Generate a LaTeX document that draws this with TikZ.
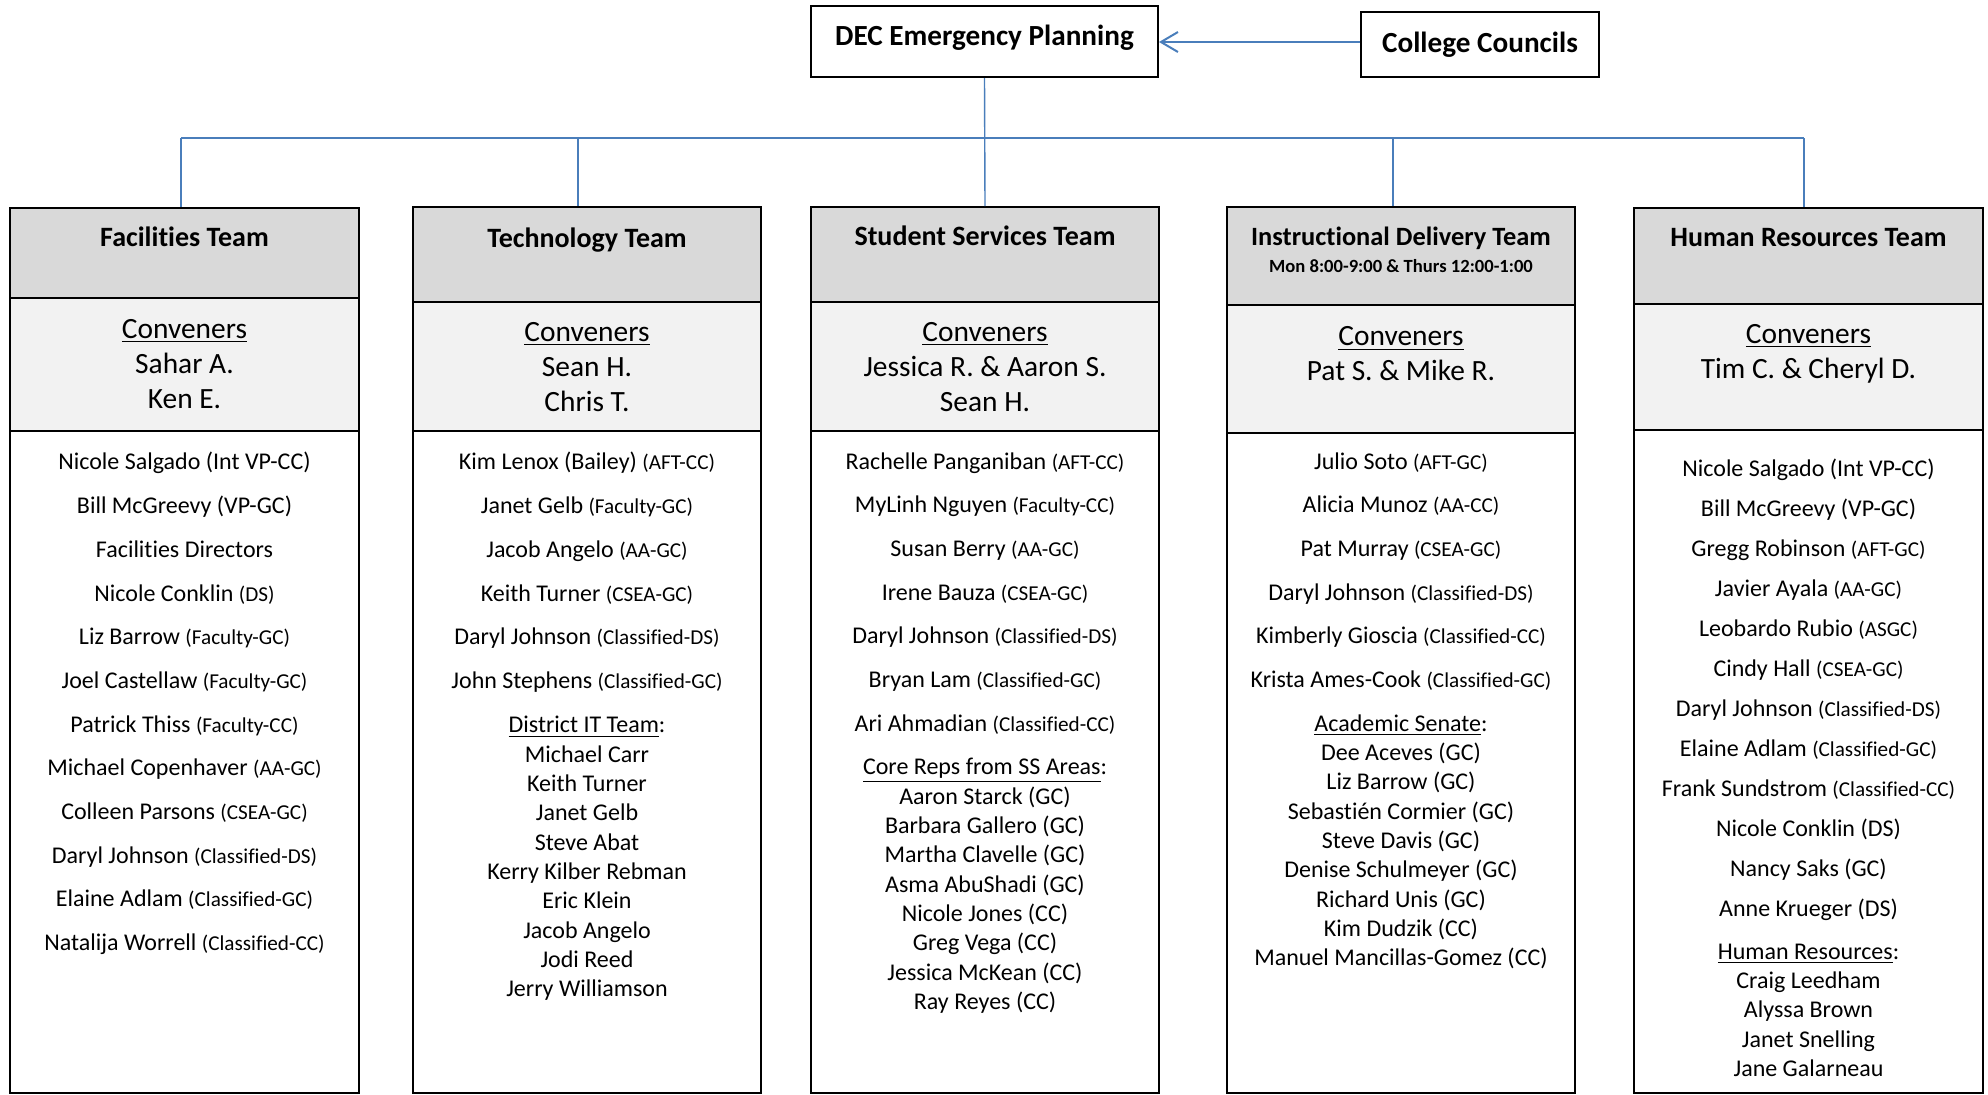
\documentclass[tikz,border=0pt]{standalone}
\usepackage{fontspec}
\setmainfont{Carlito}[Ligatures=CommonOff]
\usetikzlibrary{fit,arrows.meta}
\definecolor{linkblue}{HTML}{4A7EBB}
\definecolor{hdrgray}{HTML}{D9D9D9}
\definecolor{convgray}{HTML}{F2F2F2}
\newcommand{\orgtag}[1]{{\fontsize{10.6}{14.65}\selectfont #1}}

\begin{document}
\begin{tikzpicture}[x=0.5pt,y=-0.5pt,
	box/.style={draw, line width=1pt, inner sep=0pt},
	hdrbox/.style={box, fill=hdrgray},
	convbox/.style={box, fill=convgray},
	topttl/.style={font=\fontsize{14.6}{17}\selectfont\bfseries},
	ttl/.style={font=\fontsize{14}{17}\selectfont\bfseries},
	conv/.style={align=center, inner sep=0pt, font=\fontsize{14.7}{17.5}\selectfont},
	lst/.style={align=center, anchor=north, inner sep=0pt, font=\fontsize{12}{14.65}\selectfont},
	link/.style={draw=linkblue, line width=0.7pt},
	bus/.style={draw=linkblue, line width=1pt},
	arr/.style={draw=linkblue, line width=1pt, -{Straight Barb[length=8.5pt,width=10pt]}}]

	\useasboundingbox (0,0) rectangle (1988,1094);

	% top level
	\node[box, fit={(811,6) (1158,77)}] (dec) {};
	\node[topttl] (dect) at (984.5,38) {DEC Emergency Planning};
	\node[box, fit={(1361,12) (1599,77)}] (cc) {};
	\node[topttl] (cct) at (1480,45) {College Councils};

	% team frames
	\node[hdrbox, fit={(10,208) (359,298)}] (fach) {};
	\node[convbox, fit={(10,298) (359,431)}] (facc) {};
	\node[box, fit={(10,431) (359,1093)}] (facb) {};

	\node[hdrbox, fit={(413,207) (761,302)}] (tech) {};
	\node[convbox, fit={(413,302) (761,431)}] (tecc) {};
	\node[box, fit={(413,431) (761,1093)}] (tecb) {};

	\node[hdrbox, fit={(811,207) (1159,302)}] (ssh) {};
	\node[convbox, fit={(811,302) (1159,431)}] (ssc) {};
	\node[box, fit={(811,431) (1159,1093)}] (ssb) {};

	\node[hdrbox, fit={(1227,207) (1575,305)}] (idh) {};
	\node[convbox, fit={(1227,305) (1575,433)}] (idc) {};
	\node[box, fit={(1227,433) (1575,1093)}] (idb) {};

	\node[hdrbox, fit={(1634,208) (1983,304)}] (hrh) {};
	\node[convbox, fit={(1634,304) (1983,430)}] (hrc) {};
	\node[box, fit={(1634,430) (1983,1093)}] (hrb) {};

	% connectors
	\coordinate (fork) at (984.5,138);
	\coordinate (facd) at ([xshift=-1.75pt]fach.north);
	\coordinate (tecd) at ([xshift=-4.5pt]tech.north);
	\coordinate (idd) at ([xshift=-4pt]idh.north);
	\coordinate (hrd) at ([xshift=-2.25pt]hrh.north);
	\draw[arr] ([yshift=1.25pt]cc.west) -- ([yshift=1.25pt]dec.east |- cc.west);
	\draw[link] (dec.south) -- (ssh.north);
	\draw[bus] (facd |- fork) -- (hrd |- fork);
	\draw[link] (facd |- fork) -- (facd);
	\draw[link] (tecd |- fork) -- (tecd);
	\draw[link] (idd |- fork) -- (idd);
	\draw[link] (hrd |- fork) -- (hrd);

	% titles
	\node[ttl] (fact) at (184.5,237) {Facilities Team};
	\node[ttl] (tect) at (587,240) {Technology Team};
	\node[ttl] (sst) at (985,236) {Student Services Team};
	\node[ttl, font=\fontsize{13.2}{16}\selectfont\bfseries] (idt) at (1401,238) {Instructional Delivery Team};
	\node[font=\fontsize{9.3}{11}\selectfont\bfseries] (ids) at (1401,266) {Mon 8:00-9:00 \& Thurs 12:00-1:00};
	\node[ttl] (hrt) at (1808.5,238) {Human Resources Team};

	% conveners
	\node[conv] (facn) at (184.5,364) {\underline{Conveners}\\Sahar A.\\Ken E.};
	\node[conv] (tecn) at (587,367) {\underline{Conveners}\\Sean H.\\Chris T.};
	\node[conv] (ssn) at (985,367) {\underline{Conveners}\\Jessica R. \& Aaron S.\\Sean H.};
	\node[conv] (idn) at (1401,354) {\underline{Conveners}\\Pat S. \& Mike R.};
	\node[conv] (hrn) at (1808.5,354) {\underline{Conveners}\\Tim C. \& Cheryl D.};

	% members
	\node[lst] (facl) at (184.5,452) {Nicole Salgado (Int VP-CC)\\[7.2pt]
		Bill McGreevy (VP-GC)\\[7.2pt]
		Facilities Directors\\[7.2pt]
		Nicole Conklin \orgtag{(DS)}\\[7.2pt]
		Liz Barrow \orgtag{(Faculty-GC)}\\[7.2pt]
		Joel Castellaw \orgtag{(Faculty-GC)}\\[7.2pt]
		Patrick Thiss \orgtag{(Faculty-CC)}\\[7.2pt]
		Michael Copenhaver \orgtag{(AA-GC)}\\[7.2pt]
		Colleen Parsons \orgtag{(CSEA-GC)}\\[7.2pt]
		Daryl Johnson \orgtag{(Classified-DS)}\\[7.2pt]
		Elaine Adlam \orgtag{(Classified-GC)}\\[7.2pt]
		Natalija Worrell \orgtag{(Classified-CC)}};
	\node[lst] (tecl) at (587,452) {Kim Lenox (Bailey) \orgtag{(AFT-CC)}\\[7.2pt]
		Janet Gelb \orgtag{(Faculty-GC)}\\[7.2pt]
		Jacob Angelo \orgtag{(AA-GC)}\\[7.2pt]
		Keith Turner \orgtag{(CSEA-GC)}\\[7.2pt]
		Daryl Johnson \orgtag{(Classified-DS)}\\[7.2pt]
		John Stephens \orgtag{(Classified-GC)}\\[7.6pt]
		\underline{District IT Team}:\\
		Michael Carr\\ Keith Turner\\ Janet Gelb\\ Steve Abat\\ Kerry Kilber Rebman\\
		Eric Klein\\ Jacob Angelo\\ Jodi Reed\\ Jerry Williamson};
	\node[lst] (ssl) at (985,452) {Rachelle Panganiban \orgtag{(AFT-CC)}\\[7.2pt]
		MyLinh Nguyen \orgtag{(Faculty-CC)}\\[7.2pt]
		Susan Berry \orgtag{(AA-GC)}\\[7.2pt]
		Irene Bauza \orgtag{(CSEA-GC)}\\[7.2pt]
		Daryl Johnson \orgtag{(Classified-DS)}\\[7.2pt]
		Bryan Lam \orgtag{(Classified-GC)}\\[7.2pt]
		Ari Ahmadian \orgtag{(Classified-CC)}\\[7.2pt]
		\underline{Core Reps from SS Areas}:\\
		Aaron Starck (GC)\\ Barbara Gallero (GC)\\ Martha Clavelle (GC)\\ Asma AbuShadi (GC)\\
		Nicole Jones (CC)\\ Greg Vega (CC)\\ Jessica McKean (CC)\\ Ray Reyes (CC)};
	\node[lst] (idl) at (1401,452) {Julio Soto \orgtag{(AFT-GC)}\\[7.2pt]
		Alicia Munoz \orgtag{(AA-CC)}\\[7.2pt]
		Pat Murray \orgtag{(CSEA-GC)}\\[7.2pt]
		Daryl Johnson \orgtag{(Classified-DS)}\\[7.2pt]
		Kimberly Gioscia \orgtag{(Classified-CC)}\\[7.2pt]
		Krista Ames-Cook \orgtag{(Classified-GC)}\\[7.2pt]
		\underline{Academic Senate}:\\
		Dee Aceves (GC)\\ Liz Barrow (GC)\\ Sebastién Cormier (GC)\\ Steve Davis (GC)\\
		Denise Schulmeyer (GC)\\ Richard Unis (GC)\\ Kim Dudzik (CC)\\ Manuel Mancillas-Gomez (CC)};
	\node[lst] (hrl) at (1808.5,459) {Nicole Salgado (Int VP-CC)\\[5.35pt]
		Bill McGreevy (VP-GC)\\[5.35pt]
		Gregg Robinson \orgtag{(AFT-GC)}\\[5.35pt]
		Javier Ayala \orgtag{(AA-GC)}\\[5.35pt]
		Leobardo Rubio \orgtag{(ASGC)}\\[5.35pt]
		Cindy Hall \orgtag{(CSEA-GC)}\\[5.35pt]
		Daryl Johnson \orgtag{(Classified-DS)}\\[5.35pt]
		Elaine Adlam \orgtag{(Classified-GC)}\\[5.35pt]
		Frank Sundstrom \orgtag{(Classified-CC)}\\[5.35pt]
		Nicole Conklin (DS)\\[5.35pt]
		Nancy Saks (GC)\\[5.35pt]
		Anne Krueger (DS)\\[6.5pt]
		\underline{Human Resources}:\\
		Craig Leedham\\ Alyssa Brown\\ Janet Snelling\\ Jane Galarneau};
\end{tikzpicture}
\end{document}
